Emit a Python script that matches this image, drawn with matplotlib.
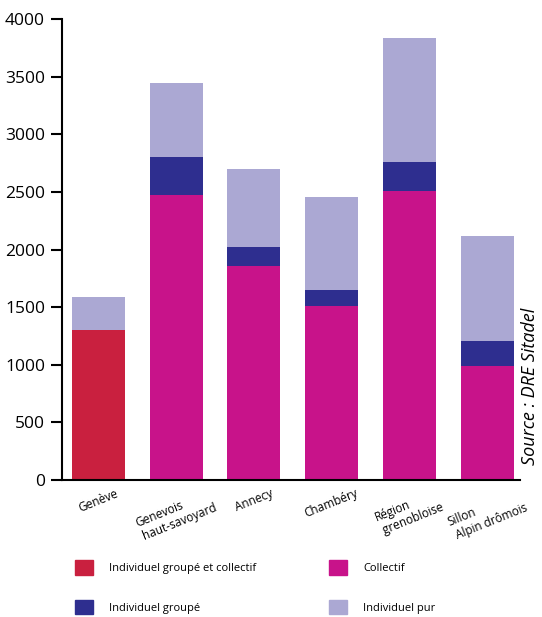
import numpy as np
import matplotlib
matplotlib.use("Agg")
import matplotlib.pyplot as plt
from matplotlib.patches import Patch

# données
zones = ["Genève", "Genevois\n haut-savoyard", "Annecy", "Chambéry",
         "Région\n grenobloise", "Sillon\n Alpin drômois"]
groupe_collectif = [1300, 0, 0, 0, 0, 0]
collectif = [0, 2470, 1860, 1510, 2510, 990]
individuel_groupe = [0, 330, 160, 140, 250, 220]
individuel_pur = [290, 650, 680, 810, 1080, 910]

c_rouge = "#c9203f"
c_magenta = "#c8138a"
c_bleu = "#2e2e8f"
c_lavande = "#aba8d3"

plt.rcParams['font.family'] = ['Open Sans', 'DejaVu Sans']

fig = plt.figure(figsize=(5.42, 6.17), dpi=100)
ax = fig.add_axes([0.114, 0.222, 0.845, 0.747])

x = np.arange(len(zones))
w = 0.68
gc = np.array(groupe_collectif)
co = np.array(collectif)
ig = np.array(individuel_groupe)
ip = np.array(individuel_pur)

ax.bar(x, gc, w, color=c_rouge)
ax.bar(x, co, w, bottom=gc, color=c_magenta)
ax.bar(x, ig, w, bottom=gc + co, color=c_bleu)
ax.bar(x, ip, w, bottom=gc + co + ig, color=c_lavande)

ax.set_ylim(0, 4000)
ax.set_xlim(-0.47, 5.42)
ax.set_yticks(np.arange(0, 4001, 500))
ax.tick_params(axis='y', labelsize=12.5, length=8, width=1.5, direction='out', pad=4)
ax.set_xticks(x)
ax.set_xticklabels(zones, rotation=22, ha='center', va='top', fontsize=8.5,
                   multialignment='left')
ax.tick_params(axis='x', length=0, pad=5)
for s in ['top', 'right']:
    ax.spines[s].set_visible(False)
ax.spines['left'].set_linewidth(1.5)
ax.spines['bottom'].set_linewidth(1.5)

fig.text(0.978, 0.374, "Source : DRE Sitadel", rotation=90, style='italic',
         fontsize=13, ha='center', va='center')

# ordre par colonne : rouge/bleu à gauche, magenta/lavande à droite
handles = [Patch(color=c_rouge), Patch(color=c_bleu),
           Patch(color=c_magenta), Patch(color=c_lavande)]
labels = ["Individuel groupé et collectif", "Individuel groupé",
          "Collectif", "Individuel pur"]
fig.legend(handles, labels, ncol=2, loc='lower left',
           bbox_to_anchor=(0.12, -0.012), frameon=False, fontsize=8,
           handlelength=1.6, handleheight=1.6, handletextpad=1.5,
           columnspacing=6.5, labelspacing=2.3)

fig.savefig("out.png", dpi=100)
